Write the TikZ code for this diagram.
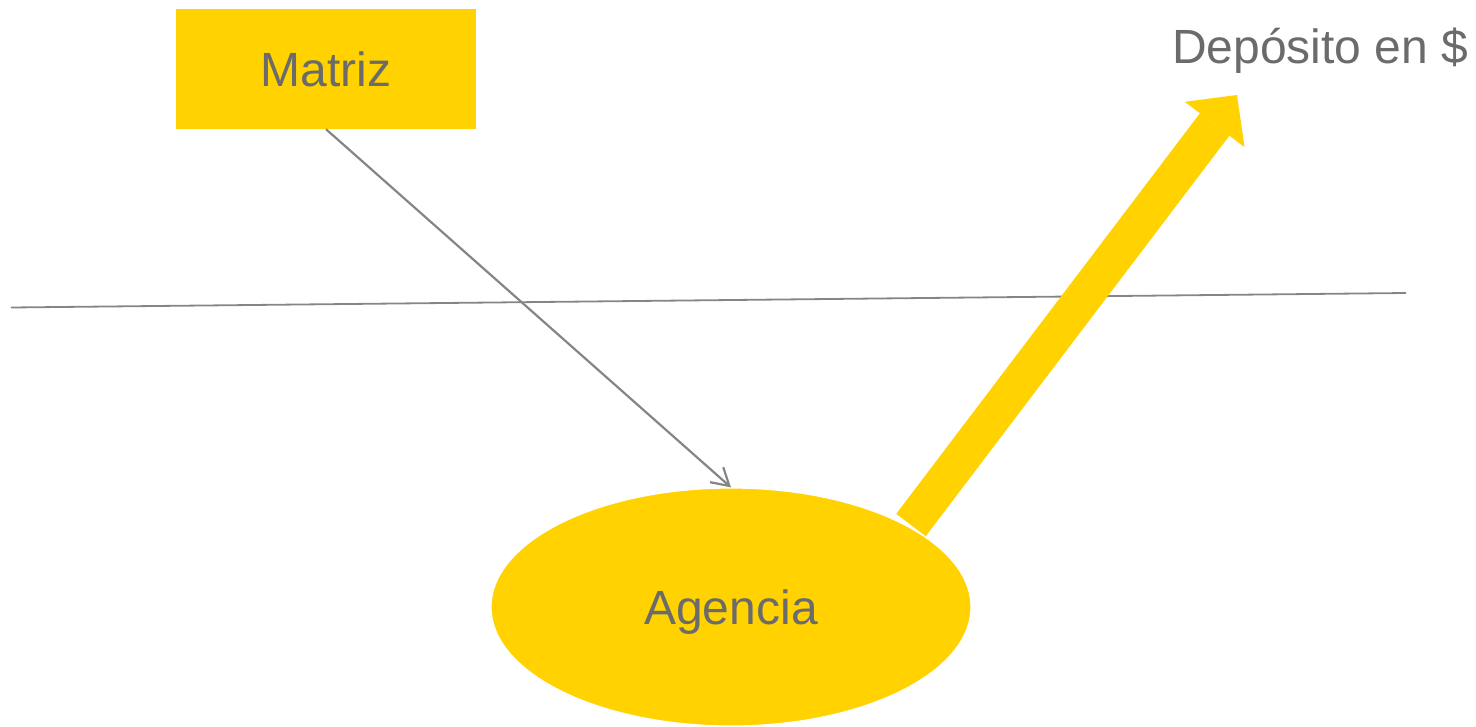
\documentclass[tikz,border=0pt]{standalone}
\usepackage{fontspec}
\setmainfont{Liberation Sans}
\usetikzlibrary{arrows.meta,shapes.geometric}
\definecolor{ayellow}{HTML}{FFD200}
\definecolor{atext}{HTML}{6B6B6B}
\definecolor{aline}{HTML}{858585}
\begin{document}
\begin{tikzpicture}[x=1pt,y=-1pt,
  lbl/.style={text=atext,font=\fontsize{48}{57}\selectfont,inner sep=0pt},
  boxnode/.style={lbl,fill=ayellow,minimum width=300pt,minimum height=120pt,text height=34pt,text depth=0pt},
  ovalnode/.style={lbl,ellipse,fill=ayellow,draw=white,line width=1.2pt,minimum width=480pt,minimum height=238pt,text height=34pt,text depth=0pt},
  thinline/.style={draw=aline,line width=1.8pt},
  thinarrow/.style={draw=aline,line width=2.2pt,-{Straight Barb[length=17pt,width=20pt]}},
  bigarrow/.style={draw=ayellow,line width=37pt,-{Triangle[length=37pt,width=75pt,line width=0pt]}}]
\useasboundingbox (0,0) rectangle (1476,726);
\coordinate (hl) at (11,307.5);
\coordinate (hr) at (1406,293);
\draw[thinline] (hl) -- (hr);
\coordinate (tail) at (911,525);
\coordinate (deptip) at (1237,95);
\draw[bigarrow] (tail) -- (deptip);
\node[boxnode] (matriz) at (326,69) {Matriz};
\node[ovalnode] (agencia) at (731,607) {Agencia};
\node[lbl,anchor=base west] (deposito) at (1172,63.5) {Depósito en \$};
\draw[thinarrow] (matriz.south) -- (agencia.north);
\end{tikzpicture}
\end{document}
